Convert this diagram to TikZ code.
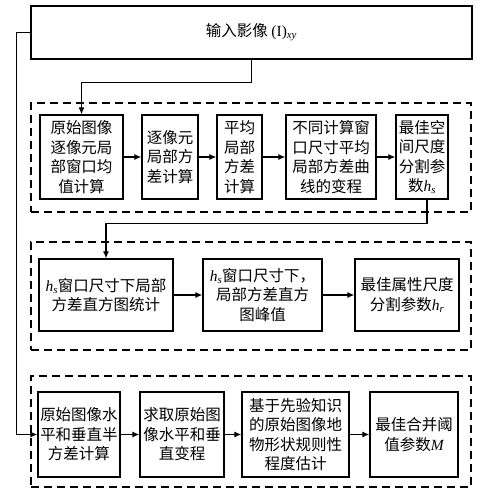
\documentclass[tikz,border=0pt]{standalone}
\usepackage{fontspec}
\setmainfont{Liberation Serif}
\newfontfamily\cjk{Noto Sans CJK SC}
\usetikzlibrary{arrows.meta}
\newcommand{\lat}[2]{{\rmfamily\itshape #1\textsubscript{#2}}}
\tikzset{
  box/.style={draw=black, line width=1.3pt, fill=white, inner sep=0pt, align=center,
    font=\cjk\fontsize{15.5}{19.5}\selectfont},
  panel/.style={draw=black, line width=2pt, dash pattern=on 8pt off 5pt, inner sep=0pt},
  arr/.style={draw=black, line width=1.2pt, -{Latex[length=7pt,width=6pt]}},
}
\begin{document}
\begin{tikzpicture}[x=1pt,y=-1pt]
\useasboundingbox (0,0) rectangle (480,499);
% panels
\node[panel, minimum width=440pt, minimum height=109pt] (p1) at (251,157.5) {};
\node[panel, minimum width=440pt, minimum height=108pt] (p2) at (251,296) {};
\node[panel, minimum width=440pt, minimum height=111pt] (p3) at (251,431.5) {};
% top box
\node[box, minimum width=441pt, minimum height=53pt] (top) at (251.5,32.5) {输入影像 {\rmfamily (I)\textsubscript{\itshape xy}}};
% panel 1
\node[box, minimum width=83pt, minimum height=84pt] (b1) at (81.5,157) {原始图像\\逐像元局\\部窗口均\\值计算};
\node[box, minimum width=56pt, minimum height=84pt] (b2) at (170,157) {逐像元\\局部方\\差计算};
\node[box, minimum width=45pt, minimum height=84pt] (b3) at (239.5,157) {平均\\局部\\方差\\计算};
\node[box, minimum width=90pt, minimum height=84pt] (b4) at (331,157) {不同计算窗\\口尺寸平均\\局部方差曲\\线的变程};
\node[box, minimum width=52pt, minimum height=84pt] (b5) at (422,157) {最佳空\\间尺度\\分割参\\数\lat{h}{s}};
% panel 2
\node[box, minimum width=134pt, minimum height=72pt] (a1) at (106,295) {\lat{h}{s}窗口尺寸下局部\\方差直方图统计};
\node[box, minimum width=119pt, minimum height=72pt] (a2) at (262.5,295) {\lat{h}{s}窗口尺寸下，\\局部方差直方\\图峰值};
\node[box, minimum width=104pt, minimum height=72pt] (a3) at (407,295) {最佳属性尺度\\分割参数\lat{h}{r}};
% panel 3
\node[box, minimum width=82pt, minimum height=85pt] (c1) at (79,434.5) {原始图像水\\平和垂直半\\方差计算};
\node[box, minimum width=84pt, minimum height=85pt] (c2) at (182,434.5) {求取原始图\\像水平和垂\\直变程};
\node[box, minimum width=107pt, minimum height=85pt] (c3) at (295.5,434.5) {基于先验知识\\的原始图像地\\物形状规则性\\程度估计};
\node[box, minimum width=88pt, minimum height=85pt] (c4) at (414,434.5) {最佳合并阈\\值参数{\rmfamily\itshape M}};
% connectors
\draw[arr] (top.south) -- ++(0,23) -| (b1.north);
\draw[arr] (top.west) -- ++(-14,0) |- (c1.west);
\draw[arr] (b1) -- (b2);
\draw[arr] (b2) -- (b3);
\draw[arr] (b3) -- (b4);
\draw[arr] (b4) -- (b5);
\draw[arr] ([xshift=5pt]b5.south) -- ++(0,24) -| (a1.north);
\draw[arr] (a1) -- (a2);
\draw[arr] (a2) -- (a3);
\draw[arr] (c1) -- (c2);
\draw[arr] (c2) -- (c3);
\draw[arr] (c3) -- (c4);
\end{tikzpicture}
\end{document}
